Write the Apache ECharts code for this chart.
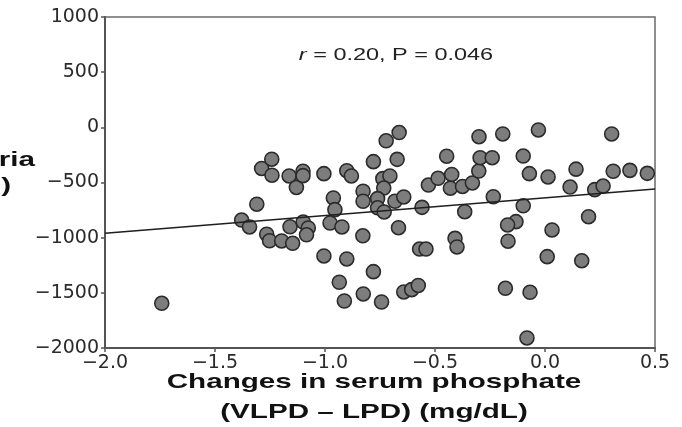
<!DOCTYPE html>
<html><head><meta charset="utf-8">
<script src="https://cdn.jsdelivr.net/npm/echarts@6/dist/echarts.min.js"></script>
<style>html,body{margin:0;padding:0;background:#fff}#c{width:682px;height:427px}</style>
</head><body><div id="c"></div>
<script>
// Changes in serum phosphate (VLPD - LPD), mg/dL
const xValues = [-1.742,-1.379,-1.343,-1.310,-1.288,-1.242,-1.241,-1.163,-1.130,-1.100,
  -1.100,-1.005,-0.901,-0.880,-1.265,-1.252,-1.197,-1.147,-1.159,-1.099,
  -1.076,-1.084,-0.977,-0.923,-0.962,-0.955,-0.827,-0.827,-0.828,-1.005,
  -0.901,-0.935,-0.912,-0.780,-0.826,-0.743,-0.642,-0.606,-0.576,-0.780,
  -0.672,-0.722,-0.663,-0.737,-0.705,-0.733,-0.761,-0.761,-0.731,-0.682,
  -0.642,-0.559,-0.666,-0.570,-0.541,-0.409,-0.400,-0.530,-0.486,-0.424,
  -0.430,-0.375,-0.330,-0.301,-0.447,-0.300,-0.192,-0.030,0.303,-0.295,
  -0.240,-0.099,-0.071,0.014,0.141,0.310,0.386,0.465,0.114,0.226,
  0.264,-0.235,-0.099,-0.365,0.198,-0.132,-0.170,0.032,-0.168,0.010,
  0.167,-0.180,-0.068,-0.082];
const yValues = [-1595,-840,-903,-697,-373,-289,-434,-441,-545,-398,
  -438,-420,-393,-441,-969,-1028,-1030,-1051,-901,-858,
  -912,-974,-867,-903,-640,-746,-579,-670,-983,-1166,
  -1193,-1404,-1574,-1308,-1510,-1583,-1492,-1471,-1433,-311,
  -290,-122,-47,-465,-441,-550,-646,-729,-767,-670,
  -631,-725,-910,-1103,-1103,-1006,-1084,-523,-462,-427,
  -552,-536,-504,-396,-262,-85,-60,-24,-60,-275,
  -275,-260,-420,-450,-379,-398,-390,-417,-541,-565,
  -532,-629,-711,-765,-810,-855,-885,-930,-1032,-1172,
  -1209,-1459,-1495,-1909];
// regression line endpoints
const fitX = [-2.0, 0.5];
const fitY = [-960, -560];
const xTicks = [-2.0,-1.5,-1.0,-0.5,0.0,0.5];
const xTickLabels = ['\u22122.0','\u22121.5','\u22121.0','\u22120.5','0.0','0.5'];
const yTicks = [-2000,-1500,-1000,-500,0,500,1000];
const yTickLabels = ['\u22122000','\u22121500','\u22121000','\u2212500','0','500','1000'];
const annotation = ['r', ' = 0.20, P = 0.046'];
const xTitle = ['Changes in serum phosphate', '(VLPD \u2013 LPD) (mg/dL)'];
const yTitleVisible = ['ria', ')'];

function lab(ticks, labels) {
  return function (v) {
    for (let i = 0; i < ticks.length; i++) if (Math.abs(v - ticks[i]) < 1e-9) return labels[i];
    return '';
  };
}
const pts = xValues.map((x, i) => [x, yValues[i]]);
const fit = fitX.map((x, i) => [x, fitY[i]]);

const chart = echarts.init(document.getElementById('c'), null, {renderer: 'canvas'});
const S = 1.41;
chart.setOption({
  animation: false,
  backgroundColor: '#fff',
  grid: {left: 105, right: 27, top: 17, bottom: 79, show: true, borderColor: '#6a6a6a', borderWidth: 1.5, backgroundColor: 'transparent'},
  xAxis: {
    type: 'value', min: -2, max: 0.5, interval: 0.5,
    splitLine: {show: false},
    axisLine: {show: true, onZero: false, lineStyle: {color: '#555', width: 2}},
    axisTick: {show: true, length: 4, lineStyle: {color: '#555', width: 1.5}},
    axisLabel: {formatter: lab(xTicks, xTickLabels), color: '#2a2a2a', fontFamily: 'DejaVu Sans', fontSize: 19, margin: 6}
  },
  yAxis: {
    type: 'value', min: -2000, max: 1000, interval: 500,
    splitLine: {show: false},
    axisLine: {show: true, onZero: false, lineStyle: {color: '#555', width: 2}},
    axisTick: {show: true, length: 4, lineStyle: {color: '#555', width: 1.5}},
    axisLabel: {formatter: lab(yTicks, yTickLabels), color: '#2a2a2a', fontFamily: 'DejaVu Sans', fontSize: 19, margin: 6}
  },
  series: [
    {type: 'scatter', data: pts, symbol: 'circle', symbolSize: 14,
     itemStyle: {color: '#7d7d7d', borderColor: '#2b2b2b', borderWidth: 1.6, opacity: 1}, z: 2},
    {type: 'line', data: fit, symbol: 'none', lineStyle: {color: '#1e1e1e', width: 1.5}, z: 3, silent: true}
  ],
  graphic: [
    {type: 'text', x: 396, y: 55, scaleX: 1.38,
     style: {text: '{i|' + annotation[0] + '}' + annotation[1], fill: '#222', font: '17px "Liberation Sans", Arial, sans-serif',
       textAlign: 'center', textVerticalAlign: 'middle',
       rich: {i: {fontStyle: 'italic', fontSize: 17, fontFamily: 'Liberation Sans', fill: '#222'}}}},
    {type: 'text', x: 374, y: 382, scaleX: S,
     style: {text: xTitle[0], fill: '#111', font: 'bold 21px "Liberation Sans", Arial, sans-serif', textAlign: 'center', textVerticalAlign: 'middle'}},
    {type: 'text', x: 374, y: 412, scaleX: S,
     style: {text: xTitle[1], fill: '#111', font: 'bold 21px "Liberation Sans", Arial, sans-serif', textAlign: 'center', textVerticalAlign: 'middle'}},
    {type: 'text', x: 35, y: 160, scaleX: S,
     style: {text: yTitleVisible[0], fill: '#111', font: 'bold 21px "Liberation Sans", Arial, sans-serif', textAlign: 'right', textVerticalAlign: 'middle'}},
    {type: 'text', x: 11, y: 186, scaleX: S,
     style: {text: yTitleVisible[1], fill: '#111', font: 'bold 21px "Liberation Sans", Arial, sans-serif', textAlign: 'right', textVerticalAlign: 'middle'}}
  ]
});
</script></body></html>
